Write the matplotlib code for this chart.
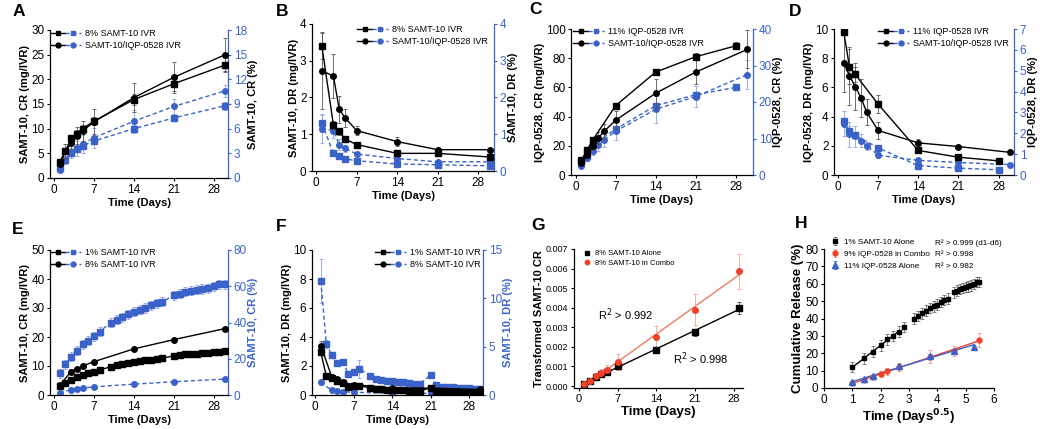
import numpy as np
import matplotlib
matplotlib.use('Agg')
import matplotlib.pyplot as plt
from matplotlib.lines import Line2D
from matplotlib.legend_handler import HandlerTuple

plt.rcParams['font.family'] = ['Liberation Sans', 'DejaVu Sans']
plt.rcParams['font.size'] = 8.5
plt.rcParams['axes.linewidth'] = 0.9
plt.rcParams['xtick.major.size'] = 2.5
plt.rcParams['ytick.major.size'] = 2.5
plt.rcParams['xtick.major.width'] = 0.8
plt.rcParams['ytick.major.width'] = 0.8
plt.rcParams['xtick.major.pad'] = 2
plt.rcParams['ytick.major.pad'] = 1.5

BLUE = '#3a62c9'
RED = '#f0402a'
W, H = 1050, 429

# ---- A: SAMT-10 cumulative release ----
a_days = [1, 2, 3, 4, 5, 7, 14, 21, 30]
a_sq_mg = [3.3, 5.4, 8.1, 9.0, 10.0, 11.5, 15.9, 19.1, 22.9]
a_sq_mg_err = [0.3, 0.5, 0.6, 0.7, 0.8, 0.8, 1.2, 1.4, 1.5]
a_ci_mg = [2.8, 5.4, 7.0, 8.6, 9.5, 11.4, 16.3, 20.4, 25.0]
a_ci_mg_err = [0.4, 1.5, 1.2, 1.7, 2.0, 2.5, 3.0, 3.2, 3.4]
a_sq_pct = [1.2, 2.2, 3.0, 3.5, 3.9, 4.5, 6.0, 7.3, 8.8]
a_sq_pct_err = [0.1, 0.2, 0.3, 0.3, 0.3, 0.3, 0.4, 0.4, 0.5]
a_ci_pct = [1.0, 2.2, 3.0, 3.6, 4.1, 4.9, 6.9, 8.7, 10.6]
a_ci_pct_err = [0.2, 0.5, 0.6, 0.9, 1.1, 1.2, 1.4, 0.9, 0.7]

# ---- B: SAMT-10 daily release ----
b_days = [1, 3, 4, 5, 7, 14, 21, 30]
b_sq_mg = [3.4, 1.25, 1.08, 0.87, 0.72, 0.48, 0.48, 0.38]
b_sq_mg_err = [0.35, 0.1, 0.1, 0.08, 0.05, 0.04, 0.04, 0.03]
b_ci_mg = [2.73, 2.58, 1.68, 1.45, 1.10, 0.80, 0.58, 0.58]
b_ci_mg_err = [1.05, 0.6, 0.37, 0.25, 0.12, 0.12, 0.05, 0.04]
b_sq_pct = [1.3, 0.48, 0.40, 0.33, 0.28, 0.19, 0.17, 0.14]
b_sq_pct_err = [0.23, 0.03, 0.03, 0.03, 0.02, 0.02, 0.02, 0.02]
b_ci_pct = [1.15, 1.10, 0.72, 0.62, 0.46, 0.34, 0.25, 0.25]
b_ci_pct_err = [0.4, 0.2, 0.15, 0.1, 0.05, 0.04, 0.03, 0.03]

# ---- C: IQP-0528 cumulative release ----
c_sq_days = [1, 2, 3, 7, 14, 21, 28]
c_sq_mg = [10, 17, 24, 47.5, 70.5, 81, 88.5]
c_sq_mg_err = [1, 1.5, 2, 2, 2, 2.5, 2.5]
c_ci_days = [1, 2, 3, 4, 5, 7, 14, 21, 30]
c_ci_mg = [8, 14, 20, 25.5, 30, 37.5, 56, 70.5, 86]
c_ci_mg_err = [1.5, 2, 3, 4, 5, 6, 10, 8, 13]
c_sq_pct = [3.2, 5.3, 8.2, 12.6, 19, 22, 24]
c_sq_pct_err = [0.3, 0.5, 0.7, 0.8, 0.8, 0.8, 0.6]
c_ci_pct = [2.6, 4.6, 6.6, 8.2, 9.6, 12, 18, 21.5, 27.5]
c_ci_pct_err = [0.4, 0.8, 1.2, 1.6, 2, 2.5, 3.7, 2.8, 4]

# ---- D: IQP-0528 daily release ----
d_sq_days = [1, 2, 3, 7, 14, 21, 28]
d_sq_mg = [9.8, 7.4, 6.9, 4.85, 1.68, 1.22, 0.97]
d_sq_mg_err = [0.2, 1.2, 0.5, 0.6, 0.1, 0.1, 0.1]
d_ci_days = [1, 2, 3, 4, 5, 7, 14, 21, 30]
d_ci_mg = [7.7, 6.8, 6.05, 5.3, 4.3, 3.05, 2.2, 1.95, 1.55]
d_ci_mg_err = [2.0, 2.0, 1.6, 1.3, 0.9, 0.6, 0.3, 0.1, 0.1]
d_sq_pct = [2.6, 2.1, 1.9, 1.3, 0.45, 0.33, 0.25]
d_sq_pct_err = [0.1, 0.25, 0.1, 0.1, 0.03, 0.03, 0.03]
d_ci_pct = [2.45, 1.95, 1.85, 1.65, 1.4, 0.95, 0.7, 0.6, 0.5]
d_ci_pct_err = [0.6, 0.6, 0.5, 0.3, 0.2, 0.15, 0.08, 0.05, 0.05]

# ---- E / F: 1% vs 8% SAMT-10 ----
e_sq_days = [1, 2, 3, 4, 5, 6, 7, 8, 10, 11, 12, 13, 14, 15, 16, 17, 18, 19,
             21, 22, 23, 24, 25, 26, 27, 28, 29, 30]
e_sq_mg = [3.2, 4.3, 5.3, 6.1, 6.9, 7.5, 8.1, 8.6, 9.8, 10.2, 10.6, 11.0, 11.4,
           11.6, 11.9, 12.2, 12.5, 12.7, 13.5, 13.8, 14.0, 14.2, 14.3, 14.5,
           14.6, 14.8, 15.0, 15.1]
e_sq_pct = [12, 17, 21, 24.5, 28, 30, 32.5, 35, 40, 41.5, 43, 44.5, 46, 47, 48,
            49.5, 50.5, 51.5, 55, 56, 57, 57.5, 58, 58.5, 59, 60, 61, 61]
e_ci_days = [1, 3, 4, 5, 7, 14, 21, 30]
e_ci_mg = [3.3, 8.1, 9.0, 10.0, 11.5, 15.9, 19.1, 22.9]
e_ci_pct = [1.2, 3.0, 3.5, 3.9, 4.5, 6.0, 7.3, 8.8]

f_sq_mg = [2.95, 1.3, 1.15, 0.95, 0.85, 0.55, 0.62, 0.65, 0.48, 0.42, 0.38,
           0.36, 0.35, 0.33, 0.32, 0.30, 0.28, 0.28, 0.50, 0.25, 0.20, 0.20,
           0.19, 0.18, 0.17, 0.16, 0.15, 0.15]
f_sq_pct = [11.8, 5.3, 4.1, 3.3, 3.4, 2.2, 2.4, 2.7, 2.0, 1.7, 1.6, 1.5, 1.4,
            1.35, 1.3, 1.2, 1.1, 1.15, 2.1, 1.0, 0.85, 0.85, 0.85, 0.75, 0.7,
            0.7, 0.65, 0.65]
f_sq_pct_err = [2.3, 0.4, 0.3, 0.3, 0.3, 0.2, 0.3, 0.9, 0.15, 0.1, 0.1, 0.1,
                0.1, 0.1, 0.1, 0.1, 0.1, 0.1, 0.3, 0.1, 0.1, 0.1, 0.1, 0.1,
                0.1, 0.1, 0.1, 0.1]

# ---- G: transformed SAMT-10 CR ----
g_days = [1, 2, 3, 4, 5, 7, 14, 21, 29]
g_alone = [0.0001, 0.00025, 0.00045, 0.0006, 0.00072, 0.001, 0.00185, 0.00275, 0.00398]
g_alone_err = [0.00002, 0.00003, 0.00005, 0.00005, 0.00006, 0.00008, 0.0001, 0.00018, 0.0003]
g_combo = [0.00008, 0.00025, 0.0005, 0.00065, 0.00083, 0.00122, 0.0025, 0.0039, 0.00587]
g_combo_err = [0.00005, 0.0001, 0.00015, 0.0002, 0.00025, 0.0004, 0.00055, 0.0008, 0.0009]

# ---- H: cumulative release vs sqrt(time) ----
h_blue_days = [1, 2, 3, 7, 14, 21, 28]
h_blue = [3.2, 5.3, 7.0, 12.8, 18.5, 21.5, 23.8]
h_blue_err = [0.3, 0.5, 0.7, 0.8, 0.8, 0.8, 0.6]
h_r2 = ['R² > 0.999 (d1-d6)', 'R² > 0.998', 'R² > 0.982']


def rect(l, t, r, b):
    return [l / W, 1 - b / H, (r - l) / W, (b - t) / H]


def letter(x, y, s):
    fig.text(x / W, 1 - y / H, s, fontsize=12.5, fontweight='bold', ha='left', va='center')


def eb(ax, x, y, err, marker, color, ls, lw=1.0, ms=4):
    ecol = '#8aa3e6' if color == BLUE else '#555555'
    ax.errorbar(x, y, yerr=err, color=color, ecolor=ecol, marker=marker, ms=ms,
                ls=ls, lw=lw, elinewidth=0.6, capsize=1.5, capthick=0.6)


def pair_legend(ax, labels, x, y, fs=6.5):
    hs = []
    for m in ['s', 'o']:
        k = Line2D([], [], color='black', marker=m, ms=3.5, lw=1.0)
        b = Line2D([], [], color=BLUE, marker=m, ms=3.5, lw=1.0, ls=(0, (3, 2)))
        hs.append((k, b))
    ax.legend(hs, labels, handler_map={tuple: HandlerTuple(ndivide=None, pad=0)},
              loc='upper left', bbox_to_anchor=(x / W, 1 - y / H),
              bbox_transform=fig.transFigure, frameon=False, fontsize=fs,
              handlelength=3.4, handletextpad=0.5, labelspacing=0.3,
              borderpad=0, borderaxespad=0)


def dual(pos, xlim, ylim, yticks, rlim, rticks, ylab, rlab, rlab_color):
    ax = fig.add_axes(rect(*pos))
    ax2 = ax.twinx()
    ax.set_zorder(ax2.get_zorder() + 1)
    ax.patch.set_visible(False)
    ax.set_xlim(*xlim)
    ax.set_xticks([0, 7, 14, 21, 28])
    ax.set_ylim(*ylim)
    ax.set_yticks(yticks)
    ax2.set_ylim(*rlim)
    ax2.set_yticks(rticks)
    ax.spines['top'].set_visible(False)
    ax.spines['right'].set_visible(False)
    for s in ['top', 'left', 'bottom']:
        ax2.spines[s].set_visible(False)
    ax2.spines['right'].set_color(BLUE)
    ax2.tick_params(axis='y', colors=BLUE, labelsize=8.5)
    ax.tick_params(labelsize=8.5)
    ax.set_xlabel('Time (Days)', fontweight='bold', fontsize=8, labelpad=1)
    ax.set_ylabel(ylab, fontweight='bold', fontsize=8, labelpad=0.5)
    ax2.set_ylabel(rlab, fontweight='bold', fontsize=8, color=rlab_color, labelpad=1)
    return ax, ax2


fig = plt.figure(figsize=(10.5, 4.29), dpi=100)
DASH = (0, (3, 2))

# A
ax, ax2 = dual((50, 30, 228, 178), (-0.7, 30.5), (0, 30), range(0, 31, 5),
               (0, 18), range(0, 19, 3), 'SAMT-10, CR (mg/IVR)', 'SAMT-10, CR (%)', 'black')
eb(ax2, a_days, a_sq_pct, a_sq_pct_err, 's', BLUE, DASH)
eb(ax2, a_days, a_ci_pct, a_ci_pct_err, 'o', BLUE, DASH)
eb(ax, a_days, a_sq_mg, a_sq_mg_err, 's', 'black', '-')
eb(ax, a_days, a_ci_mg, a_ci_mg_err, 'o', 'black', '-')
pair_legend(ax, ['8% SAMT-10 IVR', 'SAMT-10/IQP-0528 IVR'], 50, 29)
letter(13, 12, 'A')

# B
ax, ax2 = dual((312, 24, 494, 171), (-0.7, 30.7), (0, 4), range(0, 5),
               (0, 4), range(0, 5), 'SAMT-10, DR (mg/IVR)', 'SAMT-10, DR (%)', 'black')
eb(ax2, b_days, b_sq_pct, b_sq_pct_err, 's', BLUE, DASH)
eb(ax2, b_days, b_ci_pct, b_ci_pct_err, 'o', BLUE, DASH)
eb(ax, b_days, b_sq_mg, b_sq_mg_err, 's', 'black', '-')
eb(ax, b_days, b_ci_mg, b_ci_mg_err, 'o', 'black', '-')
pair_legend(ax, ['8% SAMT-10 IVR', 'SAMT-10/IQP-0528 IVR'], 357, 25)
letter(276, 12, 'B')

# C
ax, ax2 = dual((571, 29, 753, 175), (-0.8, 31), (0, 100), range(0, 101, 20),
               (0, 40), range(0, 41, 10), 'IQP-0528, CR (mg/IVR)', 'IQP-0528, CR (%)', 'black')
eb(ax2, c_sq_days, c_sq_pct, c_sq_pct_err, 's', BLUE, DASH)
eb(ax2, c_ci_days, c_ci_pct, c_ci_pct_err, 'o', BLUE, DASH)
eb(ax, c_sq_days, c_sq_mg, c_sq_mg_err, 's', 'black', '-')
eb(ax, c_ci_days, c_ci_mg, c_ci_mg_err, 'o', 'black', '-')
pair_legend(ax, ['11% IQP-0528 IVR', 'SAMT-10/IQP-0528 IVR'], 573, 27)
letter(529, 9, 'C')

# D
ax, ax2 = dual((834, 29, 1014, 175), (-0.7, 30.7), (0, 10), range(0, 11, 2),
               (0, 7), range(0, 8), 'IQP-0528, DR (mg/IVR)', 'IQP-0528, DR (%)', 'black')
eb(ax2, d_sq_days, d_sq_pct, d_sq_pct_err, 's', BLUE, DASH)
eb(ax2, d_ci_days, d_ci_pct, d_ci_pct_err, 'o', BLUE, DASH)
eb(ax, d_sq_days, d_sq_mg, d_sq_mg_err, 's', 'black', '-')
eb(ax, d_ci_days, d_ci_mg, d_ci_mg_err, 'o', 'black', '-')
pair_legend(ax, ['11% IQP-0528 IVR', 'SAMT-10/IQP-0528 IVR'], 878, 27)
letter(789, 11, 'D')

# E
ax, ax2 = dual((50, 250, 228, 395), (-0.7, 30.5), (0, 50), range(0, 51, 10),
               (0, 80), range(0, 81, 20), 'SAMT-10, CR (mg/IVR)', 'SAMT-10, CR (%)', BLUE)
eb(ax2, e_sq_days, e_sq_pct, [2.5] * len(e_sq_pct), 's', BLUE, DASH)
eb(ax2, e_ci_days, e_ci_pct, [0.3] * len(e_ci_pct), 'o', BLUE, DASH)
eb(ax, e_sq_days, e_sq_mg, [0.4] * len(e_sq_mg), 's', 'black', '-')
eb(ax, e_ci_days, e_ci_mg, [0.7] * len(e_ci_mg), 'o', 'black', '-')
pair_legend(ax, ['1% SAMT-10 IVR', '8% SAMT-10 IVR'], 50, 248)
letter(12, 229, 'E')

# F
ax, ax2 = dual((312, 250, 483, 395), (-0.6, 30.5), (0, 10), range(0, 11, 2),
               (0, 15), range(0, 16, 5), 'SAMT-10, DR (mg/IVR)', 'SAMT-10, DR (%)', BLUE)
eb(ax2, e_sq_days, f_sq_pct, f_sq_pct_err, 's', BLUE, DASH)
eb(ax2, e_ci_days, b_sq_pct, b_sq_pct_err, 'o', BLUE, DASH)
eb(ax, e_sq_days, f_sq_mg, [0.1] * len(f_sq_mg), 's', 'black', '-')
eb(ax, e_ci_days, b_sq_mg, b_sq_mg_err, 'o', 'black', '-')
pair_legend(ax, ['1% SAMT-10 IVR', '8% SAMT-10 IVR'], 375, 248)
letter(276, 226, 'F')

# G
ax = fig.add_axes(rect(574, 249, 743, 388))
for y, err, col, lc, m in [(g_alone, g_alone_err, 'black', 'black', 's'),
                            (g_combo, g_combo_err, RED, '#f07a60', 'o')]:
    k, b0 = np.polyfit(g_days, y, 1)
    xx = np.array([g_days[0], g_days[-1]])
    ax.plot(xx, k * xx + b0, color=lc, lw=1.0)
    ax.errorbar(g_days, y, yerr=err, color=col,
                ecolor='#f5a08a' if col == RED else '#444444',
                marker=m, ms=4, ls='none', elinewidth=0.6, capsize=1.5, capthick=0.6)
ax.errorbar([], [], color='black', marker='s', ms=3.2, ls='none', label='8% SAMT-10 Alone')
ax.errorbar([], [], color=RED, marker='o', ms=3.2, ls='none', label='8% SAMT-10 in Combo')
ax.legend(loc='upper left', bbox_to_anchor=(583 / W, 1 - 250 / H), bbox_transform=fig.transFigure,
          frameon=False, fontsize=5.5, handlelength=1.0, handletextpad=0.6,
          labelspacing=0.3, borderpad=0, borderaxespad=0)
ax.set_xlim(-0.9, 29.7)
ax.set_xticks([0, 7, 14, 21, 28])
ax.set_ylim(-0.0001, 0.007)
ax.set_yticks(np.arange(0, 0.0071, 0.001))
ax.yaxis.set_major_formatter(matplotlib.ticker.FormatStrFormatter('%.3f'))
ax.spines['top'].set_visible(False)
ax.spines['right'].set_visible(False)
ax.tick_params(axis='x', labelsize=8)
ax.tick_params(axis='y', labelsize=6.5)
ax.set_xlabel('Time (Days)', fontweight='bold', fontsize=9.5, labelpad=1)
ax.set_ylabel('Transformed SAMT-10 CR', fontweight='bold', fontsize=8, labelpad=1)
ax.text(0.14, 0.525, r'R$^2$ > 0.992', transform=ax.transAxes, fontsize=8, va='center')
ax.text(0.585, 0.21, r'R$^2$ > 0.998', transform=ax.transAxes, fontsize=8, va='center')
letter(531, 225, 'G')

# H
ax = fig.add_axes(rect(824, 249, 994, 388))
hx_sq = np.sqrt(e_sq_days)
hx_red = np.sqrt(c_ci_days)
hx_blue = np.sqrt(h_blue_days)
k, b0 = np.polyfit(hx_sq[:6], e_sq_pct[:6], 1)
ax.plot(hx_sq[[0, 6]], k * hx_sq[[0, 6]] + b0, color='black', lw=1.0)
k, b0 = np.polyfit(hx_red, c_ci_pct, 1)
ax.plot(hx_red[[0, -1]], k * hx_red[[0, -1]] + b0, color=RED, lw=1.0)
k, b0 = np.polyfit(hx_blue, h_blue, 1)
ax.plot(hx_blue[[0, -1]], k * hx_blue[[0, -1]] + b0, color=BLUE, lw=1.0)
ax.errorbar(hx_sq, e_sq_pct, yerr=3.0, color='black', ecolor='#555555', marker='s', ms=3.5,
            ls='none', elinewidth=0.5, capsize=1.5, capthick=0.5, label='1% SAMT-10 Alone')
ax.errorbar(hx_red, c_ci_pct, yerr=c_ci_pct_err, color=RED, ecolor='#f59a80', marker='o', ms=3.5,
            ls='none', elinewidth=0.6, capsize=1.5, capthick=0.6, label='9% IQP-0528 in Combo')
ax.errorbar(hx_blue, h_blue, yerr=h_blue_err, color=BLUE, marker='^', ms=4, ls='none',
            elinewidth=0.6, capsize=1.5, capthick=0.6, label='11% IQP-0528 Alone')
ax.legend(loc='upper left', bbox_to_anchor=(831 / W, 1 - 238 / H), bbox_transform=fig.transFigure,
          frameon=False, fontsize=5.9, handlelength=1.0, handletextpad=0.6,
          labelspacing=0.55, borderpad=0, borderaxespad=0)
for i, s in enumerate(h_r2):
    ax.text(0.655, 1.04 - i * 0.082, s, transform=ax.transAxes,
            fontsize=5.9, va='center')
ax.set_xlim(0, 6)
ax.set_ylim(0, 80)
ax.set_xticks(range(7))
ax.set_yticks(range(0, 81, 10))
ax.spines['top'].set_visible(False)
ax.spines['right'].set_visible(False)
ax.tick_params(labelsize=8.5)
ax.set_xlabel(r'Time (Days$^{\mathbf{0.5}}$)', fontweight='bold', fontsize=9.5, labelpad=1)
ax.set_ylabel('Cumulative Release (%)', fontweight='bold', fontsize=9.5, labelpad=1)
letter(795, 224, 'H')

fig.savefig('out.png', dpi=100)
